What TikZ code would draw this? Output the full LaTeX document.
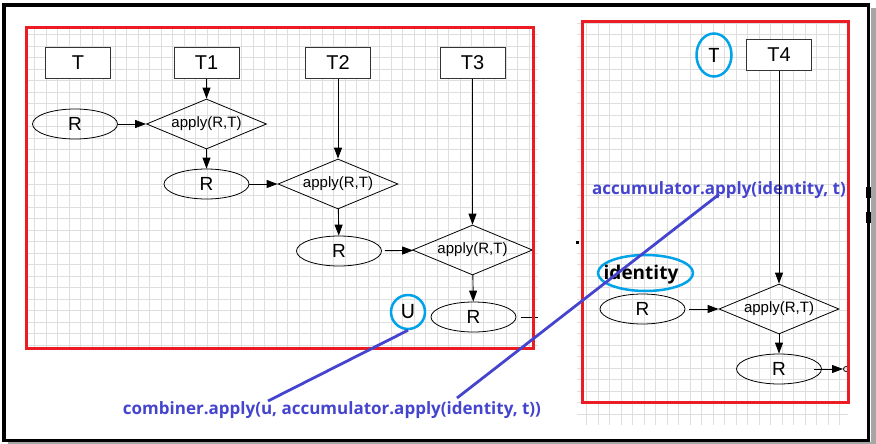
\documentclass[tikz,border=0pt]{standalone}
\usepackage{fontspec}
\setmainfont{Liberation Sans}
\newfontfamily\notefont{Open Sans}
\newfontfamily\markfont{Carlito}
\usetikzlibrary{shapes.geometric,arrows.meta}
\definecolor{framered}{RGB}{236,28,36}
\definecolor{ringcyan}{RGB}{0,162,232}
\definecolor{noteblue}{RGB}{68,68,206}
\definecolor{gridgray}{RGB}{222,222,222}
\tikzset{
  gridline/.style={draw=gridgray,line width=0.9pt},
  panel/.style={draw=framered,line width=3pt},
  tbox/.style={draw=black!80,fill=white,line width=1pt,minimum width=65pt,minimum height=31pt,
    font=\fontsize{20}{22}\selectfont},
  rnode/.style={draw,ellipse,line width=0.8pt,minimum width=85pt,minimum height=30pt,
    font=\fontsize{19}{21}\selectfont},
  apply/.style={draw,diamond,aspect=2.4,line width=0.8pt,minimum width=120pt,minimum height=50pt,
    font=\fontsize{15}{17}\selectfont},
  flow/.style={-{Triangle[length=11pt,width=8pt]},line width=0.9pt},
  ring/.style={draw=ringcyan,line width=2.5pt},
  note/.style={text=noteblue,font=\notefont\bfseries\fontsize{17}{19}\selectfont},
  pointer/.style={draw=noteblue,line width=2.8pt}
}
\begin{document}
\begin{tikzpicture}[x=1pt,y=-1pt,every node/.style={inner sep=0pt}]
  \useasboundingbox (0,0) rectangle (876,444);
  % outer frame and its shadow
  \fill[black!35] (871,8) rectangle (876,444);
  \fill[black!35] (8,442) rectangle (876,444);
  \draw[line width=3.5pt] (3.8,5) rectangle (868.7,440.7);
  \fill (865.5,187) rectangle (870.5,198);
  \fill (865.5,212) rectangle (870.5,223);
  % grids
  \draw[gridline,step=11.5pt] (28,350) grid (538,28);
  \draw[gridline,step=11.5pt] (577,425) grid (848,20);
  % left panel
  \node[tbox] (tT) at (78,63) {T};
  \node[tbox] (tA) at (206.5,63) {T1};
  \node[tbox] (tB) at (338,63) {T2};
  \node[tbox] (tC) at (472.5,63) {T3};
  \node[rnode] (rA) at (75,124) {R};
  \node[apply] (dA) at (206.5,124) {apply(R,T)};
  \node[rnode] (rB) at (206.5,184) {R};
  \node[apply] (dB) at (338,184) {apply(R,T)};
  \node[rnode] (rC) at (339,251) {R};
  \node[apply] (dC) at (472.5,250) {apply(R,T)};
  \node[rnode] (rD) at (473.5,317) {R};
  \node[ring,circle,minimum size=34pt,font=\markfont\fontsize{22}{24}\selectfont] (uU) at (408,312) {U};
  \coordinate (rDend) at (538,317);
  % right panel
  \node[ring,ellipse,minimum width=35pt,minimum height=43pt,font=\markfont\fontsize{22}{24}\selectfont] (tR) at (714,55) {T};
  \node[tbox] (tD) at (779,55) {T4};
  \node[ring,ellipse,minimum width=95pt,minimum height=36pt] (idnRing) at (645.5,273) {};
  \node[font=\notefont\bfseries\fontsize{19}{21}\selectfont] (idn) at (641,275) {identity};
  \node[rnode] (rE) at (642.5,309) {R};
  \node[apply] (dD) at (779,309) {apply(R,T)};
  \node[rnode] (rF) at (779,369) {R};
  \coordinate (rFend) at (843,369);
  % notes
  \node[note] (acc) at (719,190) {accumulator.apply(identity, t)};
  \node[note] (comb) at (332,410) {combiner.apply(u, accumulator.apply(identity, t))};
  \coordinate (combU) at (268,401);
  \coordinate (accId) at (457,398);
  \begin{scope}[flow]
    \draw (tA) -- (dA);
    \draw (rA) -- (dA);
    \draw (dA) -- (rB);
    \draw (rB) -- (dB);
    \draw (tB) -- (dB);
    \draw (dB) -- (rC);
    \draw[shorten <=3pt] (rC) -- (dC);
    \draw (tC) -- (dC);
    \draw (dC) -- (rD);
    \draw (tD) -- (dD);
    \draw[shorten <=4pt] (rE) -- (dD);
    \draw (dD) -- (rF);
    \draw[shorten <=-8pt] (rF) -- (rFend);
  \end{scope}
  \draw[line width=0.9pt,shorten <=5pt] (rD) -- (rDend);
  \draw[line width=0.8pt] (rFend) ++(3,0) circle (2.5);
  \fill (575.5,240.5) rectangle (578.5,243.5);
  % red panels
  \draw[panel] (26,27.5) rectangle (533,348);
  \draw[panel] (582,22) rectangle (848.5,402.5);
  % pointers
  \draw[pointer] (uU.south) -- (combU);
  \draw[pointer] (acc.base) -- (accId);
\end{tikzpicture}
\end{document}
